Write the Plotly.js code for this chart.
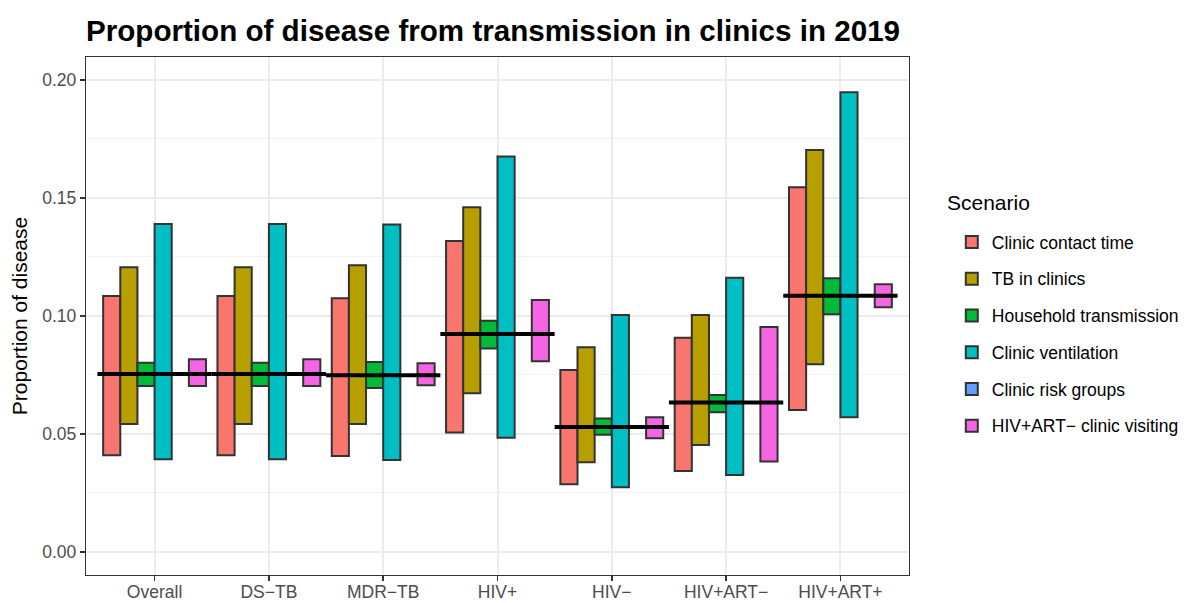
<!DOCTYPE html>
<html>
<head>
<meta charset="utf-8">
<script src="https://cdn.plot.ly/plotly-3.0.1.min.js"></script>
<style>html,body{margin:0;padding:0;background:#fff}#chart{width:1198px;height:603px}</style>
</head>
<body>
<div id="chart"></div>
<script>
const categories = ['Overall', 'DS\u2212TB', 'MDR\u2212TB', 'HIV+', 'HIV\u2212', 'HIV+ART\u2212', 'HIV+ART+'];
const scenarios = ['Clinic contact time', 'TB in clinics', 'Household transmission', 'Clinic ventilation', 'Clinic risk groups', 'HIV+ART\u2212 clinic visiting'];
const colors = ['#F8766D', '#B79F00', '#00BA38', '#00BFC4', '#619CFF', '#F564E3'];

const contactLow  = [0.0410, 0.0410, 0.0407, 0.0506, 0.0287, 0.0343, 0.0602];
const contactHigh = [0.1085, 0.1085, 0.1075, 0.1318, 0.0771, 0.0908, 0.1545];
const tbLow       = [0.0542, 0.0542, 0.0542, 0.0672, 0.0380, 0.0453, 0.0795];
const tbHigh      = [0.1206, 0.1206, 0.1215, 0.1460, 0.0867, 0.1004, 0.1703];
const houseLow    = [0.0703, 0.0703, 0.0695, 0.0862, 0.0497, 0.0592, 0.1007];
const houseHigh   = [0.0802, 0.0802, 0.0805, 0.0980, 0.0566, 0.0665, 0.1160];
const ventLow     = [0.0393, 0.0393, 0.0390, 0.0484, 0.0274, 0.0326, 0.0571];
const ventHigh    = [0.1390, 0.1390, 0.1387, 0.1675, 0.1004, 0.1162, 0.1948];
const riskLow     = [null, null, null, null, null, null, null];
const riskHigh    = [null, null, null, null, null, null, null];
const visitLow    = [0.0703, 0.0703, 0.0706, 0.0808, 0.0482, 0.0383, 0.1037];
const visitHigh   = [0.0816, 0.0816, 0.0800, 0.1068, 0.0571, 0.0953, 0.1134];
const baseline    = [0.0754, 0.0754, 0.0749, 0.0924, 0.0530, 0.0633, 0.1086];

const lows = [contactLow, tbLow, houseLow, ventLow, riskLow, visitLow];
const highs = [contactHigh, tbHigh, houseHigh, ventHigh, riskHigh, visitHigh];

const idx = categories.map((c, i) => i);
const FONT = '"Liberation Sans", Arial, Helvetica, sans-serif';

const traces = scenarios.map((name, s) => ({
  type: 'bar',
  name: name,
  x: idx,
  base: lows[s],
  y: lows[s].map((lo, i) => (lo === null || highs[s][i] === null) ? null : highs[s][i] - lo),
  marker: { color: colors[s], line: { color: '#333333', width: 2 } },
  legendgroup: 'g' + s,
  hoverinfo: 'skip'
}));

const lx = [], ly = [];
baseline.forEach((v, i) => { lx.push(i - 0.5, i + 0.5, null); ly.push(v, v, null); });
traces.push({
  type: 'scatter', mode: 'lines', x: lx, y: ly,
  line: { color: '#000000', width: 4 },
  showlegend: false, hoverinfo: 'skip'
});

const layout = {
  width: 1198, height: 603,
  margin: { l: 86, r: 289, t: 57, b: 28 },
  paper_bgcolor: '#ffffff', plot_bgcolor: '#ffffff',
  font: { family: FONT, color: '#000000' },
  title: {
    text: '<b>Proportion of disease from transmission in clinics in 2019</b>',
    font: { family: FONT, size: 29.6, color: '#000000' },
    xref: 'paper', x: 0, xanchor: 'left',
    yref: 'container', y: 0.95, yanchor: 'middle'
  },
  barmode: 'group', bargap: 0.1, bargroupgap: 0,
  xaxis: {
    type: 'linear', range: [-0.6, 6.6],
    tickmode: 'array', tickvals: idx, ticktext: categories,
    ticks: 'outside', ticklen: 5, tickwidth: 1.5, tickcolor: '#333333',
    ticklabelstandoff: -4,
    tickfont: { family: FONT, size: 17.5, color: '#4D4D4D' },
    showgrid: true, gridcolor: '#EBEBEB', gridwidth: 2,
    zeroline: false, showline: true, mirror: true, linecolor: '#333333', linewidth: 1.2
  },
  yaxis: {
    range: [-0.00975, 0.2097],
    tickmode: 'array', tickvals: [0, 0.05, 0.10, 0.15, 0.20], ticktext: ['0.00', '0.05', '0.10', '0.15', '0.20'],
    ticks: 'outside', ticklen: 5, tickwidth: 1.5, tickcolor: '#333333',
    tickfont: { family: FONT, size: 17.5, color: '#4D4D4D' },
    showgrid: true, gridcolor: '#EBEBEB', gridwidth: 2,
    minor: { tickmode: 'array', tickvals: [0.025, 0.075, 0.125, 0.175], showgrid: true, gridcolor: '#F2F2F2', gridwidth: 1, ticks: '' },
    zeroline: false, showline: true, mirror: true, linecolor: '#333333', linewidth: 1.2,
    title: { text: 'Proportion of disease', font: { family: FONT, size: 21, color: '#000000' }, standoff: 8 }
  },
  annotations: [{
    text: 'Scenario', xref: 'paper', yref: 'paper',
    x: 1.0437, xanchor: 'left', y: 1 - (202 - 57) / 518, yanchor: 'middle',
    showarrow: false, font: { family: FONT, size: 21, color: '#000000' }
  }],
  legend: {
    x: 1.052, xanchor: 'left', y: 1 - (224 - 57) / 518, yanchor: 'top',
    font: { family: FONT, size: 17.5, color: '#000000' },
    traceorder: 'grouped', tracegroupgap: 11,
    bgcolor: 'rgba(0,0,0,0)'
  },
  showlegend: true
};

Plotly.newPlot('chart', traces, layout, { staticPlot: true, displayModeBar: false });
</script>
</body>
</html>
